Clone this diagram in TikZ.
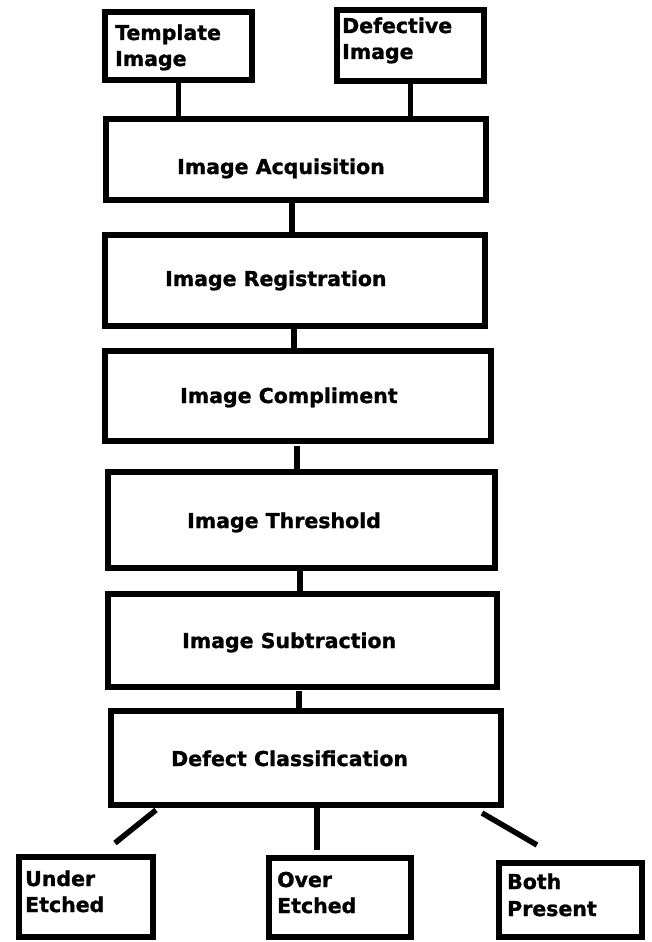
\documentclass[tikz,border=0pt]{standalone}
\usepackage{fontspec}
\setmainfont{DejaVu Sans}
\newfontfamily\heavyfont{DejaVu Sans Bold}[FakeBold=1.2]
\begin{document}
\begin{tikzpicture}[x=1pt,y=-1pt,
  box/.style={draw=black,line width=5.5pt,fill=white,inner sep=0pt,rectangle},
  lbl/.style={anchor=base west,inner sep=0pt,font=\heavyfont\fontsize{20.5}{26}\selectfont},
  conn/.style={draw=black,line width=5.5pt}]
\useasboundingbox (0,0) rectangle (651,942);
% boxes (centre, width, height)
\node[box,minimum width=147pt,minimum height=68pt] (T) at (178.5,46) {};
\node[box,minimum width=147pt,minimum height=71pt] (D) at (410.5,45.5) {};
\node[box,minimum width=380pt,minimum height=81pt] (A) at (296,159.5) {};
\node[box,minimum width=380pt,minimum height=91pt] (R) at (295,280.5) {};
\node[box,minimum width=386pt,minimum height=90pt] (C) at (298,396) {};
\node[box,minimum width=387pt,minimum height=96pt] (Th) at (301.5,520) {};
\node[box,minimum width=389pt,minimum height=93pt] (S) at (302.5,640.5) {};
\node[box,minimum width=390pt,minimum height=94pt] (DC) at (306,758) {};
\node[box,minimum width=134pt,minimum height=80pt] (U) at (86,897) {};
\node[box,minimum width=142pt,minimum height=79pt] (O) at (340,897.5) {};
\node[box,minimum width=143pt,minimum height=74pt] (B) at (570.5,900) {};
% texts
\node[lbl] (tT1) at (115,40) {Template};
\node[lbl] (tT2) at (115,66) {Image};
\node[lbl] (tD1) at (342,33) {Defective};
\node[lbl] (tD2) at (342,59) {Image};
\node[lbl] (tA) at (177,174) {Image Acquisition};
\node[lbl] (tR) at (165,286) {Image Registration};
\node[lbl] (tC) at (180,403) {Image Compliment};
\node[lbl] (tTh) at (187,528) {Image Threshold};
\node[lbl] (tS) at (182,648) {Image Subtraction};
\node[lbl] (tDC) at (171,766) {Defect Classification};
\node[lbl] (tU1) at (25,886) {Under};
\node[lbl] (tU2) at (25,912) {Etched};
\node[lbl] (tO1) at (277,887) {Over};
\node[lbl] (tO2) at (277,913) {Etched};
\node[lbl] (tB1) at (507,889) {Both};
\node[lbl] (tB2) at (507,916) {Present};
% connectors
\draw[conn] (T.south) -- (T.south |- A.north);
\draw[conn] (D.south) -- (D.south |- A.north);
\draw[conn] (292,200) coordinate (a1) -- (a1 |- R.north);
\draw[conn] (294,326) coordinate (r1) -- (r1 |- C.north);
\draw[conn] (297,446) coordinate (c1) -- (c1 |- Th.north);
\draw[conn] (300,568) coordinate (t1) -- (t1 |- S.north);
\draw[conn] (299,691) coordinate (s1) -- (s1 |- DC.north);
\coordinate (u1) at (156,810);
\coordinate (u2) at (115,843);
\draw[conn] (u1) -- (u2);
\coordinate (o1) at (317,805);
\coordinate (o2) at (317,850);
\draw[conn] (o1) -- (o2);
\coordinate (b1) at (482,813);
\coordinate (b2) at (537,845);
\draw[conn] (b1) -- (b2);
\end{tikzpicture}
\end{document}
